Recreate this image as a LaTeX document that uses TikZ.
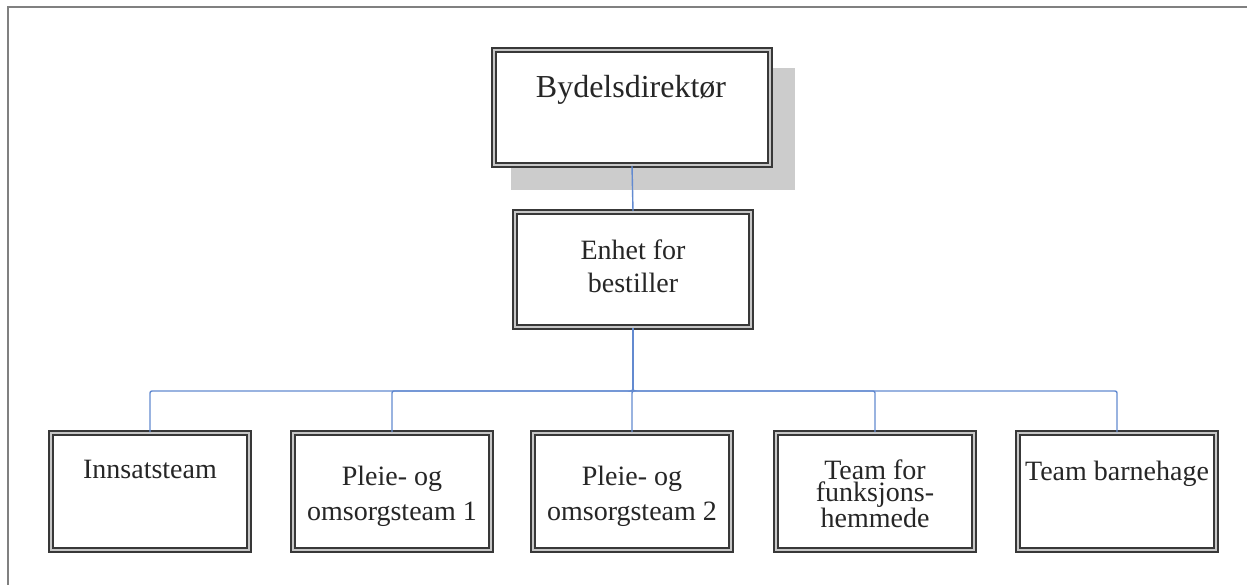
\documentclass[tikz,border=0pt]{standalone}
\usepackage{fontspec}
\setmainfont{Liberation Serif}
\begin{document}
\begin{tikzpicture}[x=1pt,y=1pt,
  unitbox/.style={draw=black!78, line width=2pt, double=black!22,
    double distance=1.6pt, fill=white, inner sep=0pt},
  shadowbox/.style={fill=black!20, draw=none},
  conn/.style={draw=linkblue, line width=1.4pt},
  bigtxt/.style={font=\fontsize{32}{36}\selectfont, text=black!85, inner sep=0pt, anchor=base},
  txt/.style={font=\fontsize{28}{33}\selectfont, text=black!85, inner sep=0pt, anchor=base,
    align=flush center, text width=200pt},
  tighttxt/.style={txt, font=\fontsize{28}{22.5}\selectfont}]
\useasboundingbox (0,0) rectangle (1247,-585);
\definecolor{linkblue}{RGB}{98,138,208}

% page frame (top and left edges only)
\draw[black!50, line width=2pt] (8,-586) -- (8,-7) -- (1248,-7);

% director box with drop shadow
\fill[shadowbox] (511,-68) rectangle (795,-190);
\node[unitbox, minimum width=276pt, minimum height=115pt] (bd) at (632,-107.5) {};
\node[bigtxt] (tbd) at (631,-98) {Bydelsdirektør};

% ordering unit
\node[unitbox, minimum width=236pt, minimum height=115pt] (en) at (633,-269.5) {};
\node[txt] (ten) at (633,-260) {Enhet for\\bestiller};

% teams
\node[unitbox, minimum width=198pt, minimum height=117pt] (b1) at (150,-491.5) {};
\node[unitbox, minimum width=198pt, minimum height=117pt] (b2) at (392,-491.5) {};
\node[unitbox, minimum width=198pt, minimum height=117pt] (b3) at (632,-491.5) {};
\node[unitbox, minimum width=198pt, minimum height=117pt] (b4) at (875,-491.5) {};
\node[unitbox, minimum width=198pt, minimum height=117pt] (b5) at (1117,-491.5) {};

\node[txt] (t1) at (150,-478) {Innsatsteam};
\node[txt] (t2) at (392,-485) {Pleie- og\\[2pt]omsorgsteam 1};
\node[txt] (t3) at (632,-485) {Pleie- og\\[2pt]omsorgsteam 2};
\node[tighttxt] (t4) at (875,-479) {Team for\\funksjons-\\hemmede};
\node[txt] (t5) at (1117,-480) {Team barnehage};

% connectors
\coordinate (bar) at (0,-391);
\draw[conn] (bd.south) -- (en.north);
\foreach \k in {1,...,5}{
  \draw[conn, rounded corners=2pt]
    (en.south) -- (en.south |- bar) -| (b\k.north);
}
\end{tikzpicture}
\end{document}
